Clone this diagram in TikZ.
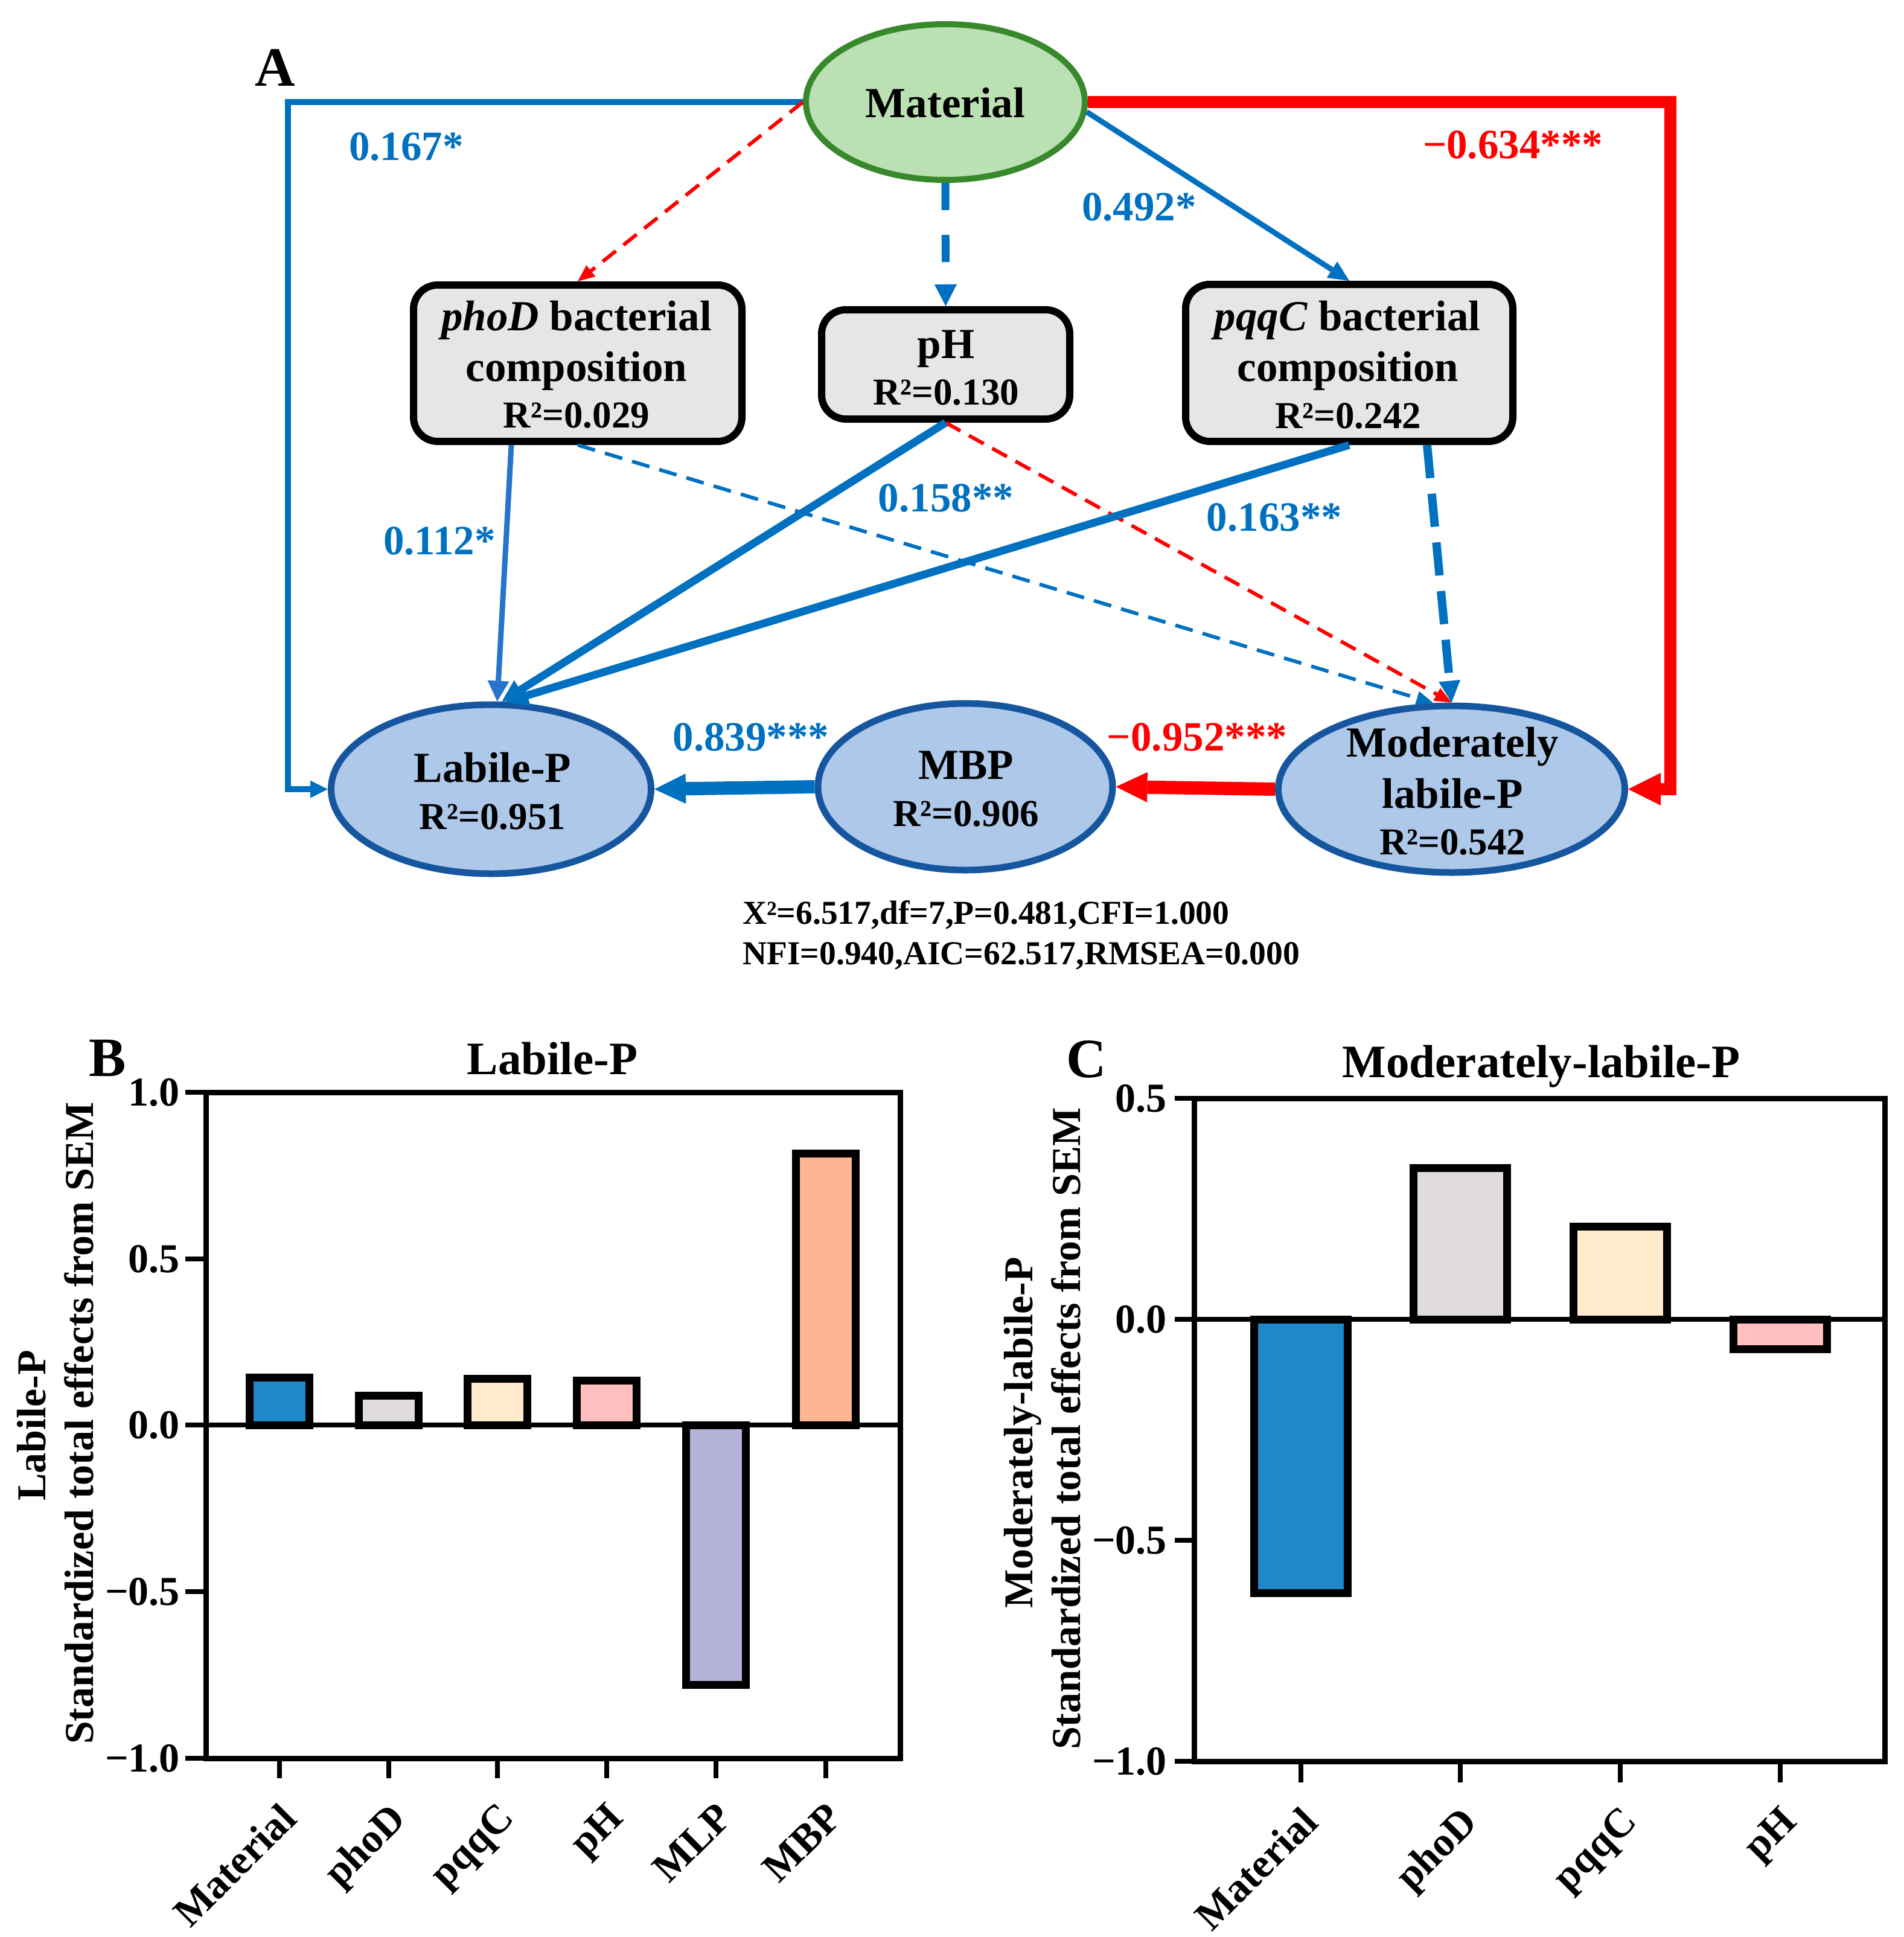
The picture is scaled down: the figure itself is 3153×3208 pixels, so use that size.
\documentclass[tikz,border=0pt]{standalone}
\usepackage{fontspec}
\setmainfont{Liberation Serif}
\usetikzlibrary{arrows.meta,shapes.geometric}
\definecolor{sblue}{RGB}{0,112,192}
\definecolor{sbluel}{RGB}{38,116,204}
\definecolor{sred}{RGB}{255,0,0}
\definecolor{matfill}{RGB}{186,224,179}
\definecolor{matdraw}{RGB}{56,136,44}
\definecolor{elfill}{RGB}{174,200,233}
\definecolor{eldraw}{RGB}{22,86,158}
\definecolor{boxfill}{RGB}{230,230,230}
\definecolor{cMat}{RGB}{31,136,200}
\definecolor{cPho}{RGB}{224,220,221}
\definecolor{cPqq}{RGB}{255,234,204}
\definecolor{cPH}{RGB}{255,191,191}
\definecolor{cMLP}{RGB}{179,179,217}
\definecolor{cMBP}{RGB}{253,182,145}
\newcommand\myfs[1]{\fontsize{#1}{#1}\selectfont\bfseries}
\tikzset{
  tip/.style 2 args={-{Triangle[length=#1pt,width=#2pt,line width=0pt]}},
  txt/.style={inner sep=0pt, anchor=base, font=\myfs{71}},
  rtxt/.style={inner sep=0pt, anchor=base, font=\myfs{63}},
  coef/.style={inner sep=0pt, anchor=base, font=\myfs{69}},
  plabel/.style={inner sep=0pt, anchor=base, font=\myfs{92}},
  ptitle/.style={inner sep=0pt, anchor=base, font=\myfs{77}},
  stat/.style={inner sep=0pt, anchor=base west, font=\myfs{55.5}},
  ticklab/.style={inner sep=0pt, anchor=east, font=\myfs{68}},
  xlab/.style={inner sep=0pt, anchor=north east, rotate=45, font=\myfs{68}},
  ylab/.style={inner sep=0pt, anchor=base, rotate=90, font=\myfs{68}},
  latent/.style={ellipse, draw=eldraw, fill=elfill, line width=11pt, inner sep=0pt},
  matel/.style={ellipse, draw=matdraw, fill=matfill, line width=10pt, inner sep=0pt},
  gbox/.style={rectangle, rounded corners=40pt, draw=black, fill=boxfill, line width=12pt, inner sep=0pt},
  bar/.style={draw=black, line width=13pt},
  axisline/.style={draw=black, line width=9pt},
  tickline/.style={draw=black, line width=8pt},
}
\begin{document}
\begin{tikzpicture}[x=1pt,y=-1pt]
\fill[white] (0,0) rectangle (3153,3208);
\useasboundingbox (0,0) rectangle (3153,3208);

% ---------------- Panel A ----------------
\node[plabel] (lA) at (456,143) {A};

\node[matel, minimum width=462pt, minimum height=258pt] (Mat) at (1566,169) {};
\node[txt] (MatT) at (1566,194.5) {Material};

\node[gbox, minimum width=544pt, minimum height=259pt] (phoD) at (957,601.5) {};
\node[txt] (phoDt1) at (955,547) {\textit{phoD} bacterial};
\node[txt] (phoDt2) at (955,631) {composition};
\node[rtxt] (phoDt3) at (955,708) {R²=0.029};

\node[gbox, minimum width=411pt, minimum height=181pt] (pH) at (1566.5,603.5) {};
\node[txt] (pHt1) at (1567,593) {pH};
\node[rtxt] (pHt2) at (1567,670) {R²=0.130};

\node[gbox, minimum width=542pt, minimum height=260pt] (pqqC) at (2235,601) {};
\node[txt] (pqqCt1) at (2232,547) {\textit{pqqC} bacterial};
\node[txt] (pqqCt2) at (2233,631) {composition};
\node[rtxt] (pqqCt3) at (2233,709) {R²=0.242};

\node[latent, minimum width=530pt, minimum height=280pt] (LP) at (813.5,1307) {};
\node[txt] (LPt1) at (816,1295) {Labile-P};
\node[rtxt] (LPt2) at (816,1373) {R²=0.951};

\node[latent, minimum width=488pt, minimum height=276pt] (MBP) at (1599,1303) {};
\node[txt] (MBPt1) at (1600,1290) {MBP};
\node[rtxt] (MBPt2) at (1600,1368) {R²=0.906};

\node[latent, minimum width=574pt, minimum height=276pt] (MLP) at (2404.5,1307) {};
\node[txt] (MLPt1) at (2406,1253) {Moderately};
\node[txt] (MLPt2) at (2406,1338) {labile-P};
\node[rtxt] (MLPt3) at (2406,1415) {R²=0.542};

\coordinate (cL) at (477,1307);
\coordinate (cR) at (2767,1307);

% connectors
\draw[sblue, line width=10pt, tip={29}{29}] (Mat.west) -| (cL) -- (LP.west);
\draw[sred, line width=20pt, tip={54}{54}] (Mat.east) -| (cR) -- (MLP.east);
\draw[sred, line width=6pt, dash pattern=on 28pt off 16pt, tip={28}{24}] (Mat.west) -- (phoD.north);
\draw[sblue, line width=13pt, dash pattern=on 45pt off 41pt, tip={36}{37}] (Mat.south) -- (pH.north);
\draw[sblue, line width=9pt, tip={34}{32}] (Mat.-4) -- (pqqC.north);

\draw[sblue, line width=6pt, dash pattern=on 30pt off 17pt, tip={28}{24}] (phoD.south) -- (MLP.102);
\draw[sred, line width=6pt, dash pattern=on 28pt off 16pt, tip={28}{24}] (pH.south) -- (MLP.north);
\draw[sblue, line width=14pt, dash pattern=on 55pt off 26pt, tip={36}{36}] ([xshift=129pt]pqqC.south) -- (MLP.north);

\draw[sbluel, line width=9pt, tip={34}{36}] ([xshift=-110pt]phoD.south) -- (LP.86);
\draw[sblue, line width=13pt, tip={36}{38}] (pH.south) -- (LP.83);
\draw[sblue, line width=13pt, tip={36}{38}] (pqqC.south) -- (LP.80);

\draw[sblue, line width=22pt, tip={52}{50}] (MBP.west) -- (LP.east);
\draw[sred, line width=22pt, tip={52}{50}] (MLP.west) -- (MBP.east);

% coefficients
\node[coef, text=sblue] (c1) at (673,266) {0.167*};
\node[coef, text=sred] (c2) at (2506,263) {−0.634***};
\node[coef, text=sblue] (c3) at (1887,365) {0.492*};
\node[coef, text=sblue] (c4) at (728,918) {0.112*};
\node[coef, text=sblue] (c5) at (1567,847) {0.158**};
\node[coef, text=sblue] (c6) at (2111,879) {0.163**};
\node[coef, text=sblue] (c7) at (1244,1243) {0.839***};
\node[coef, text=sred] (c8) at (1983,1243) {−0.952***};

\node[stat] (s1) at (1230,1530) {X²=6.517,df=7,P=0.481,CFI=1.000};
\node[stat] (s2) at (1230,1597.5) {NFI=0.940,AIC=62.517,RMSEA=0.000};

% ---------------- Panel B ----------------
\node[plabel] (lB) at (178,1782) {B};
\node[ptitle] (tB) at (915,1779) {Labile-P};

\filldraw[bar, fill=cMat] (413.5,2281) rectangle (512.5,2360);
\filldraw[bar, fill=cPho] (594.5,2311) rectangle (693.5,2360);
\filldraw[bar, fill=cPqq] (774.5,2283) rectangle (873.5,2360);
\filldraw[bar, fill=cPH]  (955.5,2286) rectangle (1054.5,2360);
\filldraw[bar, fill=cMLP] (1136.5,2360) rectangle (1235.5,2790);
\filldraw[bar, fill=cMBP] (1318.5,1910) rectangle (1417.5,2360);

\draw[axisline] (341,1809) rectangle (1491,2912);
\draw[tickline] (341,2360) -- (1491,2360);
\foreach \yy/\lab in {1809/1.0, 2085/0.5, 2360/0.0, 2636/−0.5, 2912/−1.0}{
  \draw[tickline] (307,\yy) -- (341,\yy);
  \node[ticklab] at (298,\yy) {\lab};
}
\foreach \xx/\lab in {463/Material, 644/phoD, 824/pqqC, 1005/pH, 1186/MLP, 1368/MBP}{
  \draw[tickline] (\xx,2912) -- (\xx,2945);
  \node[xlab] at (\xx-2,2982) {\lab};
}
\node[ylab] (yB1) at (75,2361) {Labile-P};
\node[ylab] (yB2) at (154,2357) {Standardized total effects from SEM};

% ---------------- Panel C ----------------
\node[plabel] (lC) at (1800,1784) {C};
\node[ptitle] (tC) at (2553,1784) {Moderately-labile-P};

\filldraw[bar, fill=cMat] (2077.5,2185) rectangle (2232.5,2638);
\filldraw[bar, fill=cPho] (2341.5,1934) rectangle (2496.5,2185);
\filldraw[bar, fill=cPqq] (2606.5,2031) rectangle (2761.5,2185);
\filldraw[bar, fill=cPH]  (2871.5,2185) rectangle (3026.5,2234);

\draw[axisline] (1978,1819) rectangle (3122,2917);
\draw[tickline] (1978,2185) -- (3122,2185);
\foreach \yy/\lab in {1819/0.5, 2185/0.0, 2551/−0.5, 2917/−1.0}{
  \draw[tickline] (1946,\yy) -- (1978,\yy);
  \node[ticklab] at (1933,\yy) {\lab};
}
\foreach \xx/\lab in {2155/Material, 2419/phoD, 2684/pqqC, 2949/pH}{
  \draw[tickline] (\xx,2917) -- (\xx,2952);
  \node[xlab] at (\xx-2,2988) {\lab};
}
\node[ylab] (yC1) at (1710,2373) {Moderately-labile-P};
\node[ylab] (yC2) at (1789,2366) {Standardized total effects from SEM};
\end{tikzpicture}
\end{document}
